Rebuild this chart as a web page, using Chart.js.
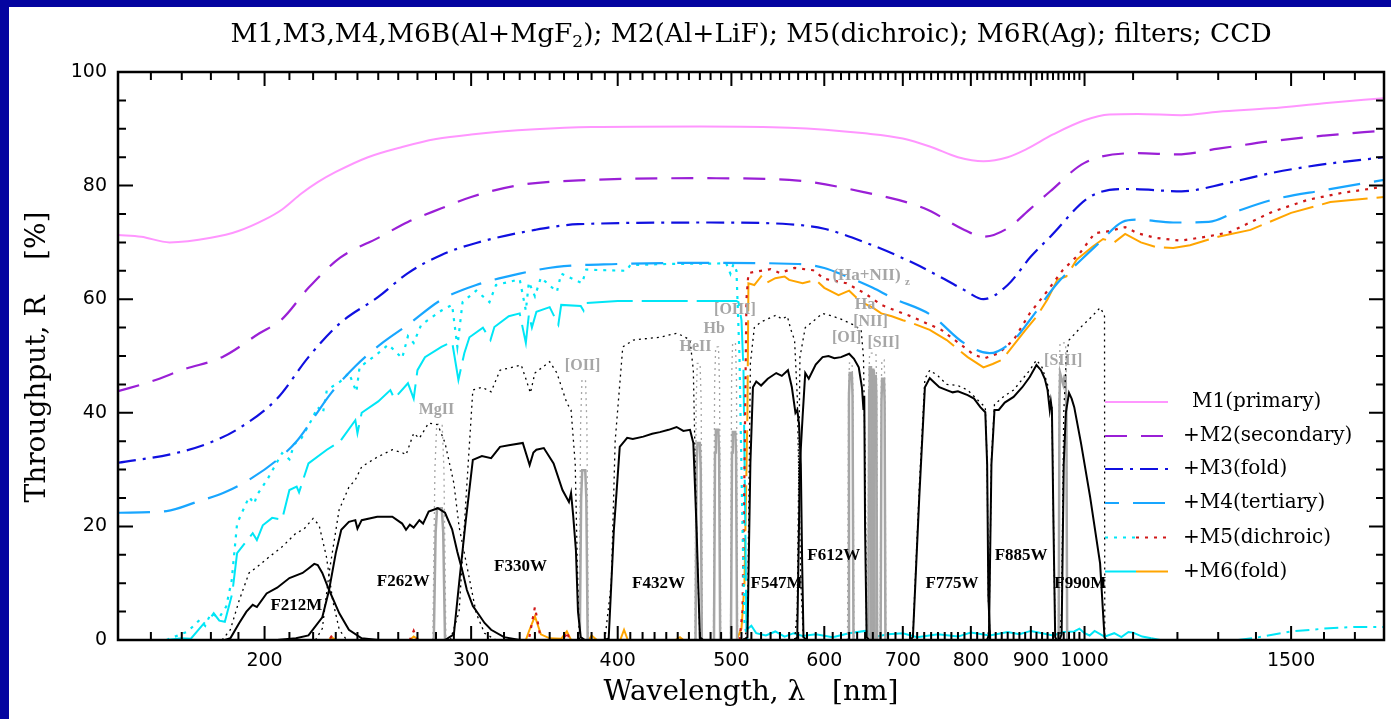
<!DOCTYPE html>
<html>
<head>
<meta charset="utf-8">
<title>Throughput</title>
<script src="https://cdn.jsdelivr.net/npm/chart.js@4.4.1/dist/chart.umd.min.js"></script>
<style>
  html, body { margin: 0; padding: 0; background: #fff; }
  canvas { display: block; }
</style>
</head>
<body>
<canvas id="grafico" width="1391" height="719"></canvas>
<script>
// ---------- data: [wavelength nm, throughput %] ----------

// cumulative mirror throughput
const m1 = [[150,71.3],[157,71.0],[166,70.0],[180,70.8],[190,72.0],[200,74.0],[207,75.8],[215,78.6],[222,80.6],[230,82.4],[245,85.0],[262,86.8],[280,88.2],[300,89.0],[340,89.9],[380,90.3],[470,90.4],[560,90.2],[650,89.2],[700,88.3],[740,86.8],[780,85.0],[820,84.3],[860,85.0],[890,86.3],[940,89.0],[1000,91.5],[1050,92.5],[1110,92.6],[1210,92.4],[1300,93.0],[1440,93.6],[1600,94.5],[1800,95.4]];
const m2 = [[150,43.8],[160,45.5],[171,47.7],[184,49.8],[198,54],[207,56.5],[218,62],[232,67.3],[250,70.8],[265,73.6],[283,76],[300,78],[330,80.1],[380,81],[470,81.3],[560,81],[650,78.8],[730,76],[790,72.2],[820,71],[860,72.5],[900,76],[935,79],[1000,84],[1110,85.7],[1200,85.5],[1300,86.5],[1440,87.8],[1600,88.8],[1800,89.7]];
const m3 = [[150,31.2],[168,32.9],[180,34.8],[190,37.2],[205,42.5],[218,49.8],[232,55.8],[250,60.4],[265,64.6],[283,67.8],[303,69.9],[340,72.2],[370,73.2],[480,73.5],[560,73.2],[600,72.4],[650,70],[714,66.4],[760,63.5],[790,61.6],[820,60],[860,62.5],[900,67.5],[935,71],[1010,78],[1090,79.4],[1210,79],[1320,80.4],[1450,82.3],[1580,83.6],[1800,85]];
const m4 = [[150,22.4],[165,22.7],[175,24.3],[185,26],[195,28.5],[205,31.7],[213,35],[220,39],[228,43.5],[239,48.2],[252,52.3],[265,55.5],[283,59.9],[303,62.5],[330,64.5],[355,65.7],[400,66.2],[470,66.4],[570,66.2],[600,65.5],[627,64],[660,62],[686,60.2],[740,57.2],[789,52.3],[830,50.5],[870,52.8],[898,56.3],[948,62.8],[993,66.9],[1030,70],[1077,73.6],[1110,74],[1190,73.5],[1276,73.6],[1350,75.5],[1446,77.5],[1600,79.2],[1800,81]];

// M5 dichroic: blue (reflected) and red (transmitted) channels
const m5Blue = [[165,0],[172,1.5],[176,3.5],[178,2.5],[180,4.7],[183,4],[185.5,5.9],[187.5,10.5],[189.5,20.5],[194,25.2],[196,24],[197,25.5],[201,28.2],[207,32.9],[210,31.8],[212,34.5],[215,35.5],[219,38.5],[222,41],[224.3,40],[226,44],[232,45.5],[236,47],[239.5,43.7],[241,48],[250,50.5],[255,52],[258,51],[262,49.6],[265,53.5],[268,52.3],[272,55.5],[283,58],[289,59],[292,51.6],[295,59.5],[303,61.5],[311,59.5],[315,62.5],[330,63.5],[334,58],[336,63],[340,60.5],[344,63.8],[355,61.3],[358,64.5],[373,62.8],[376,65.2],[407,65],[410,66],[440,66.2],[495,66.3],[499,64.5],[502,66.2],[505,65],[508,50],[511,20],[513,3],[516,0]];
const m5Red = [[508,0],[511,5],[513,30],[515,60],[517,64.6],[523,64.8],[540,65.3],[550,64.6],[566,65.5],[587,65.1],[600,63.6],[627,62.8],[650,61],[671,59],[690,58],[713,56.9],[755,54.6],[789,51.6],[805,50.2],[822,49.6],[845,50.5],[870,52.8],[898,57.5],[930,61.5],[958,65.1],[990,68],[1020,71.6],[1050,72],[1083,72.7],[1110,71.6],[1150,70.8],[1207,70.3],[1270,71],[1330,71.8],[1446,75.4],[1550,77.5],[1656,78.7],[1800,79.8]];
const m5RedUV = [[220,0],[227,0],[228,0.6],[230,0],[266,0],[268,1.6],[270,0],[336,0],[338,3],[340,5.8],[342,3],[344,0],[360,0],[362,1.5],[364,0]];

// M6 fold: blue (Al) and red (Ag) channels
const m6Blue = [[165,0],[170,0.3],[173,0.2],[176,2],[178,3.2],[180,4],[181,4.7],[183,3.4],[185,3.2],[187.7,8.2],[189.5,15.3],[195.4,18.8],[197,17.6],[199.3,20.2],[203,21.5],[207,21.2],[210,26.4],[213,27],[214,26],[218,31.1],[226,33.5],[232,35],[239,38.7],[240,36.4],[242,40],[250,42],[256,44],[258,42.5],[265,45.2],[268,42.5],[270,47.5],[274,49.8],[283,51.6],[289,52.5],[292.6,45.8],[296,50.5],[299,53.3],[307,55],[311.6,52.8],[314,55.1],[323,57],[330,57.5],[334,52.3],[336,57.3],[338,55],[341,57.8],[350,58.6],[356,55.5],[358,59],[372,58.8],[374,58],[375,59.3],[400,59.7],[505,59.7],[507,59.5],[510,56.3],[512,47.5],[513.5,25],[515,1.8]];
const m6BlueLeak = [[515,1.8],[520,2.5],[525,1.2],[535,0.8],[545,1.5],[555,0.6],[565,1.2],[575,0.7],[590,1.0],[610,0.5],[630,1.2],[650,1.6],[660,0.5],[680,1.0],[700,1.2],[720,0.5],[750,1.0],[780,0.6],[800,1.3],[830,0.8],[860,1.4],[880,1.0],[900,1.6],[920,1.2],[940,0.8],[960,1.4],[980,1.5],[990,2.0],[1000,1.2],[1010,0.8],[1020,1.6],[1040,0.6],[1060,1.2],[1075,0.5],[1090,1.4],[1100,1.3],[1120,0.6],[1140,0.3]];
const m6BlueIR = [[1140,0.3],[1160,0],[1350,0],[1400,0.4],[1500,1.5],[1600,2.0],[1700,2.3],[1800,2.3]];
const m6Red = [[505,0],[510,2],[513,10],[516,40],[517,62.8],[523,62.5],[530,64],[535,62.8],[545,63.7],[555,64],[560,63.4],[575,62.8],[590,63.4],[600,62],[617,60.7],[630,61.5],[645,59.5],[660,58.5],[671,57.5],[685,57],[700,56.3],[713,55.8],[738,54.6],[763,52.8],[795,49.8],[820,48],[835,48.6],[850,49.3],[870,51.9],[890,54.5],[910,56.9],[930,60],[948,63.4],[965,64],[985,67],[1000,68.1],[1015,69.2],[1037,70.6],[1060,70],[1083,71.5],[1117,70],[1150,69.2],[1190,69],[1230,69.5],[1300,71],[1385,72.2],[1500,75.2],[1620,77.1],[1800,78]];
const m6RedUV = [[220,0],[227,0],[228,0.5],[230,0],[266,0],[268,0.6],[271,0],[334,0],[336,1.5],[340,4.2],[344,1],[350,0.3],[358,0.2],[362,1.5],[365,0],[378,0],[380,0.8],[384,0],[402,0],[405,1.8],[408,0],[448,0],[452,0.5],[455,0]];

// broad/medium filters: total throughput (solid) and filter alone (dotted)
const f212m = [[185,0],[187,0.3],[190.3,3],[193,5],[195.4,6.2],[197,5.8],[200.8,8.2],[205,9.2],[210,10.9],[215.5,11.8],[218,12.6],[220.5,13.4],[222,13.2],[224,11.8],[227,8.8],[231.6,4.7],[236,1.8],[242,0.3],[250,0]];
const f212mFilt = [[184,0],[187,1.8],[190.3,7],[194,11.8],[198,13.2],[202,14.7],[207,16.4],[212.7,18.8],[216,19.5],[220,21.4],[222.6,20.2],[225.8,14.7],[228.6,7],[231.6,1.8],[235,0]];
const f262w = [[205,0],[212.7,0.3],[218,0.8],[224,4],[227,8.8],[230,15.3],[232.5,19.4],[236,20.8],[239,21.1],[240,19.6],[242,21.1],[249.5,21.7],[257,21.7],[262,20.5],[264,19.4],[266,20.3],[268,19.8],[271,21.1],[273,20.5],[276,22.6],[281,23.2],[285,22.4],[289,19.5],[292,15.5],[295,12],[297.5,8.8],[301,6],[304,4.7],[308,3],[312,1.8],[320,0.5],[330,0]];
const f262wFilt = [[221,0],[224,2],[227,11.8],[231.5,22.9],[236,26.9],[239,28.2],[242,30.5],[249.5,32.2],[257,33.5],[262,33],[264,32.6],[268,36.4],[271,35.5],[276,38.2],[281,37.9],[285,34.7],[290,27.6],[293,19.9],[299.5,10],[303,4.7],[308,1.2],[315,0]];
const f330w = [[285,0],[290,1],[293,10],[296.7,20.6],[301,31.7],[306.4,32.4],[312,32],[317.5,34],[323,34.3],[332,34.7],[336.5,30.8],[339,33],[341,33.5],[346,33.8],[352.7,31.1],[358.9,26.4],[363.5,24.3],[365,25.9],[366.5,22],[368.5,15.8],[370,5],[372,0.5],[375,0]];
const f330wFilt = [[288,0],[293,5],[297,25],[301,44],[306.4,44.5],[312,43.7],[317.5,47.5],[325,48],[331,48.4],[334,46],[337,43.5],[340,47],[345,48],[350,49],[355,47],[362,41.7],[365,40.5],[368,31],[369.5,13.5],[371,0]];
const f432w = [[390,0],[393,0.3],[397,19.4],[401.6,34],[407.5,35.6],[412,35.4],[420.6,35.8],[428,36.3],[434.5,36.6],[442,37],[449,37.5],[455,36.8],[461,37],[464,34.7],[467,19.4],[470,0.5],[473,0]];
const f432wFilt = [[390,0],[395,10],[398,35],[404,51.6],[412.5,52.8],[420,53],[434.5,53.3],[449,54],[455,53.5],[461,52.8],[464,47.5],[467,19],[470,0]];
const f547m = [[512,0],[516,0.5],[519,31.2],[521.6,44.5],[525,45.5],[530,44.8],[537,46],[546,47],[552,46.5],[558.7,47.5],[563,44.5],[567,40],[569,40.5],[571,38],[573,31],[574.5,13.5],[576,0.5],[580,0]];
const f547mFilt = [[512,0],[516,2],[519,48.7],[523,55],[530,56],[546,57.2],[552,56.5],[558,57],[562,54.6],[566,52.8],[569,42.8],[573,10],[576,0]];
const f612w = [[566,0],[569,0.5],[572,31],[575,39.3],[578,47],[582,46],[590,48.5],[598,49.8],[605,50],[612,49.6],[620,49.8],[630,50.4],[636,49.5],[642,48],[646,44.5],[648,40.5],[649,43],[650,20],[652,0.5],[655,0]];
const f612wFilt = [[566,0],[569,5],[572,49.8],[578,55],[590,56.5],[598,57.5],[610,57],[620,56.5],[635,55.5],[645,54.6],[648,49.8],[650,31],[652,0]];
const f775w = [[710,0],[714,0.5],[723,25.2],[731,44.5],[738,46.1],[745,45.3],[752,44.5],[763,44],[772,43.6],[780,43.8],[795,43.1],[805,42.5],[815,41],[823,40.1],[826,31],[828,7.6],[831,0]];
const f775wFilt = [[710,0],[714,1],[723,27],[731,46],[738,47.5],[750,46.5],[763,45],[780,44.8],[795,44],[815,41.8],[823,41],[826,31],[828,7],[831,0]];
const f885w = [[826,0],[829,1],[833,31],[838,40.5],[845,40.5],[855,41.8],[870,42.8],[885,44.5],[898,46.3],[910,48.4],[918,47.5],[925,46],[930,44],[934,40.5],[936,42],[938,40.5],[941,19.4],[944,0.5],[947,0]];
const f885wFilt = [[826,0],[829,2],[833,32],[838,41.5],[855,43],[870,44],[898,47.5],[910,49.3],[920,48],[930,45],[934,42],[938,41.5],[941,20],[944,0]];
const f990m = [[952,0],[956,1],[960,31],[964,40],[970,43.5],[975,42.5],[980,41],[993,34.7],[1011,25.2],[1031,13.5],[1040,0.5],[1043,0]];
const f990mFilt = [[952,0],[956,5],[960,40],[965,50],[970,52.8],[993,55.1],[1015,57],[1031,58.5],[1038,57.5],[1040,57],[1040.5,0]];

// narrow-band filters (gray): total (solid) and filter alone (dotted)
const nbMgII = [[278.8,0],[279.8,19],[280.6,23.2],[283.2,23.2],[284,19],[285,0]];
const nbMgIIFilt = [[278.3,0],[279.4,30],[280.4,38],[283.4,38],[284.4,30],[285.5,0]];
const nbOII = [[371.3,0],[372.3,25],[373.1,29.9],[375.3,29.9],[376.1,25],[377.1,0]];
const nbOIIFilt = [[370.8,0],[371.9,38],[372.9,45.8],[375.5,45.8],[376.5,38],[377.6,0]];
const nbHeII = [[466,0],[467,30],[467.8,34.7],[470,34.7],[470.8,30],[471.8,0]];
const nbHeIIFilt = [[465.5,0],[466.6,42],[467.6,48.7],[470.2,48.7],[471.2,42],[472.3,0]];
const nbHb = [[483.2,0],[484.2,33],[485,37],[487.3,37],[488.1,33],[489.1,0]];
const nbHbFilt = [[482.7,0],[483.8,45],[484.8,51.6],[487.5,51.6],[488.5,45],[489.6,0]];
const nbOIII = [[499.6,0],[500.6,33],[501.4,36.6],[503.8,36.6],[504.6,33],[505.6,0]];
const nbOIIIFilt = [[499.1,0],[500.2,46],[501.2,52.3],[504,52.3],[505,46],[506.1,0]];
const nbOI = [[628.6,0],[629.8,43],[630.7,47],[633.3,47],[634.2,43],[635.4,0]];
const nbOIFilt = [[628,0],[629.3,44],[630.4,48.8],[633.6,48.8],[634.7,44],[636,0]];
const nbHa = [[654.2,0],[655.3,44],[656,48],[657.6,48],[658.3,44],[659.4,0]];
const nbNII = [[657.2,0],[658.3,44],[659,47.6],[660.6,47.6],[661.3,44],[662.4,0]];
const nbHaz = [[660.4,0],[661.5,43],[662.2,46.5],[663.8,46.5],[664.5,43],[665.6,0]];
const nbHaFilt = [[653.6,0],[654.8,45],[655.8,50.5],[664,50.5],[665,45],[666.2,0]];
const nbSII = [[670.2,0],[671.3,42],[672.1,46],[674.6,46],[675.4,42],[676.5,0]];
const nbSIIFilt = [[669.6,0],[670.9,44],[671.8,49.3],[674.9,49.3],[675.9,44],[677.1,0]];
const nbSIII = [[950.5,0],[952,42],[953.2,47],[956,46],[959,45],[961.5,46.5],[963.5,46.5],[965,40],[966.5,0]];
const nbSIIIFilt = [[950,0],[951.5,46],[953,52.3],[963.5,52.3],[965,46],[966.5,0]];

// labels: [text, wavelength, throughput]
const filterNames = ['F212M','F262W','F330W','F432W','F547M','F612W','F775W','F885W','F990M'];
const filterLabelAt = [[212.9,6.0],[262.6,10.2],[330.5,12.9],[433.4,10.0],[546.3,10.0],[611.3,14.8],[771,10.0],[883,14.8],[991.6,10.0]];
const lineNames = ['MgII','[OII]','HeII','Hb','[OIII]','Ha','[NII]','[OI]','[SII]','[SIII]'];
const lineLabelAt = [[280.3,40.5],[373.4,48.2],[466,51.6],[483.4,54.8],[503.5,58.1],[650,59.0],[657,56.0],[627,53.2],[674,52.3],[959,49.1]];
const legendNames = ['M1(primary)','+M2(secondary)','+M3(fold)','+M4(tertiary)','+M5(dichroic)','+M6(fold)'];

// axis ticks
const xMajor = [200,300,400,500,600,700,800,900,1000,1500];
const yMajor = [0,20,40,60,80,100];

// ---------- styles ----------
const COR = {
  m1: '#ff96ff', m2: '#9a1fd6', m3: '#1010e0', m4: '#18a6ff',
  ciano: '#00e6f6', vermelho: '#d01818', laranja: '#ffa500',
  preto: '#000000', cinza: '#a6a6a6'
};
const TRACO = {
  m2: [22, 14], m3: [18, 7, 3, 7], m4: [32, 14], pontos: [3, 6],
  m6: [46, 9], filtro: [2, 4], ir: [14, 6, 3, 6]
};
const SERIF = "'DejaVu Serif', serif";
const SANS = "'DejaVu Sans', sans-serif";

function linha(pts, cor, largura, traco, suave) {
  return {
    data: pts.map(p => ({ x: p[0], y: p[1] })),
    borderColor: cor,
    borderWidth: largura,
    borderDash: traco || [],
    pointRadius: 0,
    fill: false,
    tension: 0,
    cubicInterpolationMode: suave ? 'monotone' : 'default'
  };
}

// first dataset is drawn on top
const datasets = [
  linha(f212m, COR.preto, 2), linha(f262w, COR.preto, 2), linha(f330w, COR.preto, 2),
  linha(f432w, COR.preto, 2), linha(f547m, COR.preto, 2), linha(f612w, COR.preto, 2),
  linha(f775w, COR.preto, 2), linha(f885w, COR.preto, 2), linha(f990m, COR.preto, 2),
  linha(f212mFilt, COR.preto, 1.3, TRACO.filtro), linha(f262wFilt, COR.preto, 1.3, TRACO.filtro),
  linha(f330wFilt, COR.preto, 1.3, TRACO.filtro), linha(f432wFilt, COR.preto, 1.3, TRACO.filtro),
  linha(f547mFilt, COR.preto, 1.3, TRACO.filtro), linha(f612wFilt, COR.preto, 1.3, TRACO.filtro),
  linha(f775wFilt, COR.preto, 1.3, TRACO.filtro), linha(f885wFilt, COR.preto, 1.3, TRACO.filtro),
  linha(f990mFilt, COR.preto, 1.3, TRACO.filtro),
  linha(nbMgII, COR.cinza, 2.5), linha(nbOII, COR.cinza, 2.5), linha(nbHeII, COR.cinza, 2.5),
  linha(nbHb, COR.cinza, 2.5), linha(nbOIII, COR.cinza, 2.5), linha(nbOI, COR.cinza, 2.5),
  linha(nbHa, COR.cinza, 2.5), linha(nbNII, COR.cinza, 2.5), linha(nbHaz, COR.cinza, 2.5),
  linha(nbSII, COR.cinza, 2.5), linha(nbSIII, COR.cinza, 2.5),
  linha(nbMgIIFilt, COR.cinza, 1.3, TRACO.filtro), linha(nbOIIFilt, COR.cinza, 1.3, TRACO.filtro),
  linha(nbHeIIFilt, COR.cinza, 1.3, TRACO.filtro), linha(nbHbFilt, COR.cinza, 1.3, TRACO.filtro),
  linha(nbOIIIFilt, COR.cinza, 1.3, TRACO.filtro), linha(nbOIFilt, COR.cinza, 1.3, TRACO.filtro),
  linha(nbHaFilt, COR.cinza, 1.3, TRACO.filtro), linha(nbSIIFilt, COR.cinza, 1.3, TRACO.filtro),
  linha(nbSIIIFilt, COR.cinza, 1.3, TRACO.filtro),
  linha(m1, COR.m1, 2, null, true),
  linha(m2, COR.m2, 2.2, TRACO.m2, true),
  linha(m3, COR.m3, 2.2, TRACO.m3, true),
  linha(m4, COR.m4, 2.2, TRACO.m4, true),
  linha(m5Blue, COR.ciano, 2.2, TRACO.pontos),
  linha(m5Red, COR.vermelho, 2.2, TRACO.pontos),
  linha(m5RedUV, COR.vermelho, 2.2, TRACO.pontos),
  linha(m6Blue, COR.ciano, 2, TRACO.m6),
  linha(m6BlueLeak, COR.ciano, 2),
  linha(m6BlueIR, COR.ciano, 2, TRACO.ir),
  linha(m6Red, COR.laranja, 2, TRACO.m6),
  linha(m6RedUV, COR.laranja, 2)
];

// frame, ticks, texts and legend drawn with the chart's own scales
const moldura = {
  id: 'moldura',
  beforeDraw(chart) {
    const ctx = chart.ctx;
    ctx.save();
    ctx.fillStyle = '#ffffff';
    ctx.fillRect(0, 0, chart.width, chart.height);
    ctx.fillStyle = '#0404a0';
    ctx.fillRect(0, 0, 9, chart.height);
    ctx.fillRect(0, 0, chart.width, 7);
    ctx.restore();
  },
  afterDatasetsDraw(chart) {
    const ctx = chart.ctx;
    const a = chart.chartArea;
    const sx = chart.scales.x;
    const sy = chart.scales.y;
    ctx.save();

    // minor ticks every 10 nm up to 1000, every 100 nm beyond
    const xMinor = [];
    for (let v = 160; v < 1000; v += 10) if (!xMajor.includes(v)) xMinor.push(v);
    for (let v = 1100; v < 1800; v += 100) if (!xMajor.includes(v)) xMinor.push(v);

    ctx.strokeStyle = '#000';
    ctx.lineWidth = 2;
    ctx.beginPath();
    const xTick = (v, len) => {
      const px = sx.getPixelForValue(v);
      ctx.moveTo(px, a.bottom); ctx.lineTo(px, a.bottom - len);
      ctx.moveTo(px, a.top); ctx.lineTo(px, a.top + len);
    };
    xMinor.forEach(v => xTick(v, 8));
    xMajor.forEach(v => xTick(v, 14));
    for (let v = 5; v < 100; v += 5) {
      const len = v % 20 === 0 ? 15 : 8;
      const py = sy.getPixelForValue(v);
      ctx.moveTo(a.left, py); ctx.lineTo(a.left + len, py);
      ctx.moveTo(a.right, py); ctx.lineTo(a.right - len, py);
    }
    ctx.stroke();
    ctx.lineWidth = 2.5;
    ctx.strokeRect(a.left, a.top, a.right - a.left, a.bottom - a.top);

    // tick labels
    ctx.fillStyle = '#000';
    ctx.font = '19px ' + SANS;
    ctx.textAlign = 'center';
    ctx.textBaseline = 'middle';
    xMajor.forEach(v => ctx.fillText(String(v), sx.getPixelForValue(v), a.bottom + 21));
    ctx.textAlign = 'right';
    yMajor.forEach(v => ctx.fillText(String(v), a.left - 11, sy.getPixelForValue(v)));

    // axis titles
    ctx.font = '28px ' + SERIF;
    ctx.textAlign = 'center';
    ctx.fillText('Wavelength, \u03bb   [nm]', (a.left + a.right) / 2, 693);
    ctx.save();
    ctx.translate(38, 357);
    ctx.rotate(-Math.PI / 2);
    ctx.fillText('Throughput, R    [%]', 0, 0);
    ctx.restore();

    // title with subscript
    const t1 = 'M1,M3,M4,M6B(Al+MgF';
    const t2 = '2';
    const t3 = '); M2(Al+LiF); M5(dichroic); M6R(Ag); filters; CCD';
    const big = '26.4px ' + SERIF, small = '17px ' + SERIF;
    ctx.font = big;
    const w1 = ctx.measureText(t1).width, w3 = ctx.measureText(t3).width;
    ctx.font = small;
    const w2 = ctx.measureText(t2).width;
    let tx = (a.left + a.right) / 2 - (w1 + w2 + w3) / 2;
    ctx.textAlign = 'left';
    ctx.textBaseline = 'alphabetic';
    ctx.font = big; ctx.fillText(t1, tx, 42); tx += w1;
    ctx.font = small; ctx.fillText(t2, tx, 47); tx += w2;
    ctx.font = big; ctx.fillText(t3, tx, 42);

    // filter names
    ctx.textAlign = 'center';
    ctx.textBaseline = 'middle';
    ctx.font = 'bold 17px ' + "'Liberation Serif', serif";
    filterNames.forEach((n, i) => {
      ctx.fillText(n, sx.getPixelForValue(filterLabelAt[i][0]), sy.getPixelForValue(filterLabelAt[i][1]));
    });

    // emission line names
    ctx.fillStyle = COR.cinza;
    ctx.font = 'bold 16px ' + "'Liberation Serif', serif";
    lineNames.forEach((n, i) => {
      ctx.fillText(n, sx.getPixelForValue(lineLabelAt[i][0]), sy.getPixelForValue(lineLabelAt[i][1]));
    });
    const hx = sx.getPixelForValue(657), hy = sy.getPixelForValue(64.1);
    ctx.font = 'bold 17px ' + "'Liberation Serif', serif";
    ctx.fillText('(Ha+NII)', hx - 4, hy);
    ctx.font = 'bold 11px ' + "'Liberation Serif', serif";
    ctx.fillText('z', hx + 37, hy + 6);

    // legend
    const lx0 = 1105, lx1 = 1168, lmid = 1136;
    const rows = [402, 436, 469, 503, 537.5, 571.5];
    const seg = (x0, x1, y, cor, dash, w) => {
      ctx.beginPath();
      ctx.strokeStyle = cor; ctx.lineWidth = w; ctx.setLineDash(dash);
      ctx.moveTo(x0, y); ctx.lineTo(x1, y); ctx.stroke();
    };
    seg(lx0, lx1, rows[0], COR.m1, [], 2);
    seg(lx0, lx1, rows[1], COR.m2, TRACO.m2, 2.2);
    seg(lx0, lx1, rows[2], COR.m3, TRACO.m3, 2.2);
    seg(lx0, lx1, rows[3], COR.m4, [14, 14, 32, 14], 2.2);
    seg(lx0, lmid, rows[4], COR.ciano, TRACO.pontos, 2.2);
    seg(lmid, lx1, rows[4], COR.vermelho, TRACO.pontos, 2.2);
    seg(lx0, lmid, rows[5], COR.ciano, [], 2);
    seg(lmid, lx1, rows[5], COR.laranja, [], 2);
    ctx.setLineDash([]);
    ctx.fillStyle = '#000';
    ctx.font = '20px ' + SERIF;
    ctx.textAlign = 'left';
    legendNames.forEach((n, i) => ctx.fillText(n, i === 0 ? 1192 : 1183, rows[i]));

    ctx.restore();
  }
};

new Chart(document.getElementById('grafico'), {
  type: 'line',
  data: { datasets: datasets },
  options: {
    responsive: false,
    animation: false,
    devicePixelRatio: 1,
    layout: { padding: { left: 118, top: 72, right: 7, bottom: 79 } },
    plugins: { legend: { display: false }, tooltip: { enabled: false }, title: { display: false } },
    scales: {
      x: { type: 'logarithmic', min: 150, max: 1800, display: false },
      y: { type: 'linear', min: 0, max: 100, display: false }
    }
  },
  plugins: [moldura]
});
</script>
</body>
</html>
